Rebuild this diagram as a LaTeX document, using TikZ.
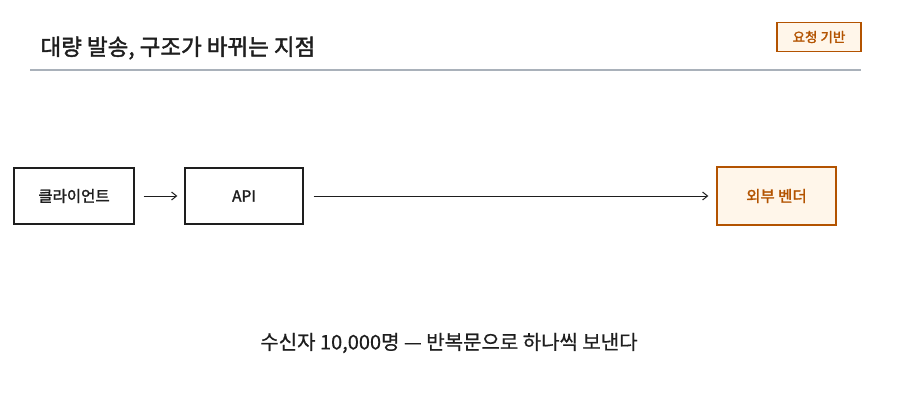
\documentclass[tikz,border=0pt]{standalone}
\usepackage{fontspec}
\newfontfamily\cjk{Noto Sans CJK KR}[FakeBold=0.6]
\newfontfamily\cjkb{Noto Sans CJK KR}[FakeBold=1.8]
\usetikzlibrary{arrows.meta}
\definecolor{ink}{HTML}{1E1E1E}
\definecolor{rust}{HTML}{B35300}
\definecolor{cream}{HTML}{FFF6EA}
\definecolor{rulec}{HTML}{A9B1BA}
\begin{document}
\begin{tikzpicture}[x=1pt,y=-1pt,
  box/.style={draw=ink,line width=1.3pt,fill=white,font=\cjkb\fontsize{15.5}{18}\selectfont,text=ink},
  vbox/.style={draw=rust,line width=1.3pt,fill=cream,font=\cjkb\fontsize{15.5}{18}\selectfont,text=rust},
  arr/.style={draw=ink,line width=1pt,-{Straight Barb[length=5pt,width=8pt]}}]
\useasboundingbox (0,0) rectangle (900,400);
\node[anchor=west,font=\cjkb\fontsize{22.5}{26}\selectfont,text=ink] (title) at (37,48) {대량 발송, 구조가 바뀌는 지점};
\node[draw=rust,line width=1.3pt,fill=cream,font=\cjkb\fontsize{13.5}{16}\selectfont,text=rust,minimum width=84pt,minimum height=29pt] (tag) at (819,37) {요청 기반};
\coordinate (r1) at (30,70); \coordinate (r2) at (861,70);
\draw[rulec,line width=1.2pt] (r1) -- (r2);
\node[box,minimum width=120pt,minimum height=56pt] (client) at (74,196) {클라이언트};
\node[box,minimum width=118pt,minimum height=56pt] (api) at (244,196) {API};
\node[vbox,minimum width=119pt,minimum height=58pt] (vendor) at (776.5,196) {외부 벤더};
\draw[arr] (client.east)++(9,0) -- ([xshift=-7pt]api.west);
\draw[arr] ([xshift=10pt]api.east) -- ([xshift=-8pt]vendor.west);
\node[font=\cjk\fontsize{20}{24}\selectfont,text=ink] (cap) at (449,343) {수신자 10,000명 — 반복문으로 하나씩 보낸다};
\end{tikzpicture}
\end{document}
